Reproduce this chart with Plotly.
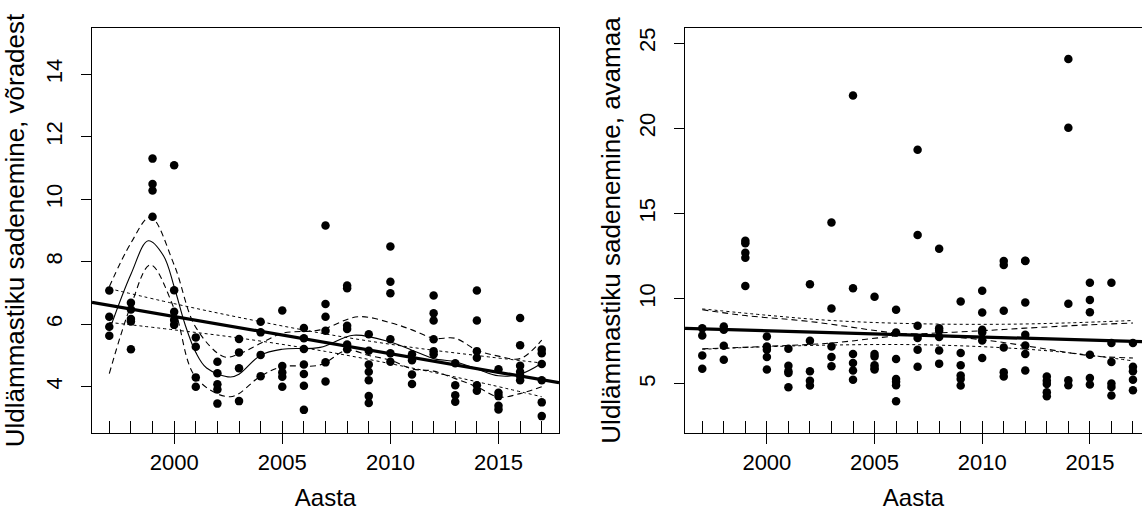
import plotly.graph_objects as go

# ---------------- data: left panel (võradest) ----------------
years_L = [1997]*4 + [1998]*5 + [1999]*4 + [2000]*5 + [2001]*4 + [2002]*5 + [2003]*4 + \
          [2004]*4 + [2005]*5 + [2006]*7 + [2007]*6 + [2008]*6 + [2009]*7 + [2010]*6 + \
          [2011]*4 + [2012]*6 + [2013]*4 + [2014]*6 + [2015]*5 + [2016]*6 + [2017]*6
vals_L = [7.08, 6.24, 5.92, 5.63,
          6.69, 6.47, 6.17, 6.09, 5.20,
          11.30, 10.49, 10.28, 9.44,
          11.09, 7.09, 6.40, 6.14, 5.98,
          5.58, 5.28, 4.30, 4.00,
          4.80, 4.43, 4.08, 3.91, 3.46,
          5.53, 5.10, 4.59, 3.54,
          6.08, 5.74, 5.02, 4.34,
          6.44, 4.66, 4.46, 4.32, 4.00,
          5.88, 5.55, 5.21, 4.71, 4.41, 4.03, 3.26,
          9.16, 6.65, 6.24, 5.79, 4.78, 4.17,
          7.24, 7.15, 5.95, 5.85, 5.35, 5.20,
          5.68, 5.15, 4.71, 4.48, 4.21, 3.70, 3.48,
          8.49, 7.36, 6.99, 5.52, 5.07, 4.80,
          5.04, 4.85, 4.39, 4.09,
          6.92, 6.35, 6.12, 5.52, 5.14, 5.04,
          4.75, 4.05, 3.73, 3.52,
          7.08, 6.12, 5.14, 4.93, 4.05, 3.87,
          4.56, 3.81, 3.70, 3.39, 3.27,
          6.20, 5.33, 4.67, 4.48, 4.35, 4.21,
          5.19, 5.07, 4.73, 4.21, 3.50, 3.06]

# linear trend (thick) read at the plot edges
linfit_x_L = [1996.2, 2017.8]
linfit_y_L = [6.70, 4.13]
# linear confidence band (dotted)
band_x_L = [1997, 2000, 2003, 2007, 2011, 2014, 2017]
band_up_L = [7.14, 6.66, 6.22, 5.69, 5.26, 5.00, 4.76]
band_lo_L = [6.06, 5.82, 5.56, 5.13, 4.60, 4.16, 3.68]
# smooth curve (thin solid) and its band (dashed)
sm_x_L = [1997, 1998, 1998.8, 1999.5, 2000, 2000.5, 2001, 2001.5, 2002.6, 2003, 2004, 2005,
          2006.75, 2008.3, 2010, 2011, 2012, 2013, 2014, 2015, 2016, 2017]
sm_y_L = [5.80, 7.60, 8.67, 8.20, 7.20, 6.00, 5.10, 4.60, 4.31, 4.40, 5.01, 5.20,
          5.26, 5.65, 5.43, 5.17, 4.90, 4.80, 4.57, 4.35, 4.40, 4.75]
smu_x_L = [1997, 1998, 1998.9, 2000, 2001, 2002.3, 2003, 2004, 2005, 2006.75, 2008.5,
           2010, 2011, 2012, 2013, 2014, 2015, 2016, 2017]
smu_y_L = [7.20, 8.60, 9.43, 7.90, 5.90, 4.96, 5.05, 5.39, 5.71, 5.82, 6.24,
           6.05, 5.82, 5.55, 5.55, 5.17, 4.98, 4.90, 5.49]
sml_x_L = [1997, 1998, 1998.9, 2000, 2001, 2002.6, 2004, 2005, 2006.75, 2008, 2009,
           2010, 2011, 2012, 2013, 2014, 2015, 2016, 2017]
sml_y_L = [4.42, 6.60, 7.90, 6.50, 4.30, 3.68, 4.34, 4.64, 4.70, 5.17, 5.00,
           4.85, 4.57, 4.50, 4.26, 4.00, 3.67, 3.78, 4.00]

# ---------------- data: right panel (avamaa) ----------------
years_R = [1997]*4 + [1998]*4 + [1999]*5 + [2000]*5 + [2001]*5 + [2002]*5 + [2003]*5 + \
          [2004]*6 + [2005]*6 + [2006]*7 + [2007]*6 + [2008]*6 + [2009]*6 + [2010]*6 + \
          [2011]*6 + [2012]*7 + [2013]*5 + [2014]*5 + [2015]*6 + [2016]*6 + [2017]*5
vals_R = [8.27, 7.84, 6.67, 5.89,
          8.37, 8.18, 7.24, 6.42,
          13.40, 13.25, 12.70, 12.40, 10.75,
          7.78, 7.20, 7.00, 6.58, 5.84,
          7.06, 6.07, 5.74, 5.64, 4.80,
          10.85, 7.53, 5.74, 5.19, 4.90,
          14.47, 9.42, 7.20, 6.58, 6.03,
          21.92, 10.61, 6.75, 6.23, 5.78, 5.25,
          10.12, 6.75, 6.61, 6.09, 5.94, 5.84,
          9.35, 8.02, 6.46, 5.29, 5.12, 4.92, 3.98,
          18.74, 13.73, 8.41, 7.69, 7.01, 6.00,
          12.93, 8.27, 8.12, 7.75, 6.96, 6.19,
          9.83, 6.81, 6.09, 5.49, 5.29, 4.90,
          10.47, 9.19, 8.18, 8.02, 7.55, 6.52,
          12.21, 11.98, 9.29, 7.14, 5.68, 5.44,
          12.21, 9.77, 7.88, 7.26, 6.75, 5.78, 12.23,
          5.44, 5.19, 5.00, 4.51, 4.28,
          24.06, 20.03, 9.70, 5.21, 4.92,
          10.94, 9.93, 9.21, 6.71, 5.35, 4.96,
          10.94, 7.40, 6.29, 5.02, 4.82, 4.32,
          7.40, 6.00, 5.74, 5.25, 4.63]

linfit_x_R = [1996.2, 2017.42]
linfit_y_R = [8.26, 7.48]
band_x_R = [1997, 2000, 2003, 2007, 2011, 2014, 2017]
band_up_R = [9.40, 9.03, 8.72, 8.53, 8.50, 8.58, 8.72]
band_lo_R = [7.03, 7.18, 7.28, 7.30, 7.12, 6.83, 6.35]
dash1_x_R = [1997, 1999, 2002, 2006, 2007, 2010, 2012, 2015, 2017]
dash1_y_R = [9.35, 9.01, 8.66, 7.98, 7.92, 7.59, 7.24, 6.66, 6.52]
dash2_x_R = [1997, 2000, 2003, 2006, 2007, 2010, 2012, 2015, 2017]
dash2_y_R = [7.06, 7.20, 7.40, 7.82, 7.92, 8.12, 8.27, 8.47, 8.57]

xlabel = "Aasta"
ylabel_L = "Uldlämmastiku sadenemine, võradest"
ylabel_R = "Uldlämmastiku sadenemine, avamaa"

FONT = "Liberation Sans, Arial, sans-serif"
fig = go.Figure()

def add_panel(xa, ya, yrs, vals, lfx, lfy, bx, bu, bl, extra):
    fig.add_trace(go.Scatter(x=yrs, y=vals, mode="markers", xaxis=xa, yaxis=ya,
                             marker=dict(color="black", size=8.5), showlegend=False))
    fig.add_trace(go.Scatter(x=lfx, y=lfy, mode="lines", xaxis=xa, yaxis=ya,
                             line=dict(color="black", width=3.2), showlegend=False))
    for yy in (bu, bl):
        fig.add_trace(go.Scatter(x=bx, y=yy, mode="lines", xaxis=xa, yaxis=ya,
                                 line=dict(color="black", width=1, dash="dot", shape="spline"),
                                 showlegend=False))
    for (ex, ey, dash) in extra:
        fig.add_trace(go.Scatter(x=ex, y=ey, mode="lines", xaxis=xa, yaxis=ya,
                                 line=dict(color="black", width=1.1, dash=dash, shape="spline"),
                                 showlegend=False))

add_panel("x", "y", years_L, vals_L, linfit_x_L, linfit_y_L, band_x_L, band_up_L, band_lo_L,
          [(sm_x_L, sm_y_L, "solid"), (smu_x_L, smu_y_L, "6px,4px"), (sml_x_L, sml_y_L, "6px,4px")])
add_panel("x2", "y2", years_R, vals_R, linfit_x_R, linfit_y_R, band_x_R, band_up_R, band_lo_R,
          [(dash1_x_R, dash1_y_R, "6px,4px"), (dash2_x_R, dash2_y_R, "6px,4px")])

tick_font = dict(family=FONT, size=22, color="black")
xtitle_font = dict(family=FONT, size=24, color="black")
ytitle_font = dict(family=FONT, size=26, color="black")
common_x = dict(tickvals=[2000, 2005, 2010, 2015], ticks="outside", ticklen=10, tickwidth=1,
                tickcolor="black", showgrid=False, zeroline=False, showline=True,
                linecolor="black", linewidth=1, tickfont=tick_font,
                minor=dict(dtick=1, tick0=1997, ticks="inside", ticklen=12, tickcolor="black",
                           tickwidth=1, showgrid=False),
                title=dict(text=xlabel, font=xtitle_font, standoff=14))
common_y = dict(ticks="outside", ticklen=10, tickwidth=1, tickcolor="black", showgrid=False,
                zeroline=False, showline=True, linecolor="black", linewidth=1,
                tickfont=tick_font, tickangle=-90, ticklabelstandoff=10)

fig.update_layout(
    width=1142, height=515, paper_bgcolor="white", plot_bgcolor="white",
    margin=dict(l=92, r=0, t=28, b=82),
    font=dict(family=FONT, color="black"),
    xaxis=dict(domain=[0, 0.4448], range=[1996.2, 2017.8], mirror=True, **common_x),
    xaxis2=dict(domain=[0.5648, 1], range=[1996.2, 2017.42], anchor="y2", mirror=True, **common_x),
    yaxis=dict(domain=[0, 1], range=[2.52, 15.48], tickvals=[4, 6, 8, 10, 12, 14], mirror=True,
               title=dict(text=ylabel_L, font=ytitle_font, standoff=12), **common_y),
    yaxis2=dict(domain=[0, 1], range=[2.12, 25.88], tickvals=[5, 10, 15, 20, 25], anchor="x2",
                title=dict(text=ylabel_R, font=ytitle_font, standoff=7), **common_y),
)

fig.write_html("out.html")
